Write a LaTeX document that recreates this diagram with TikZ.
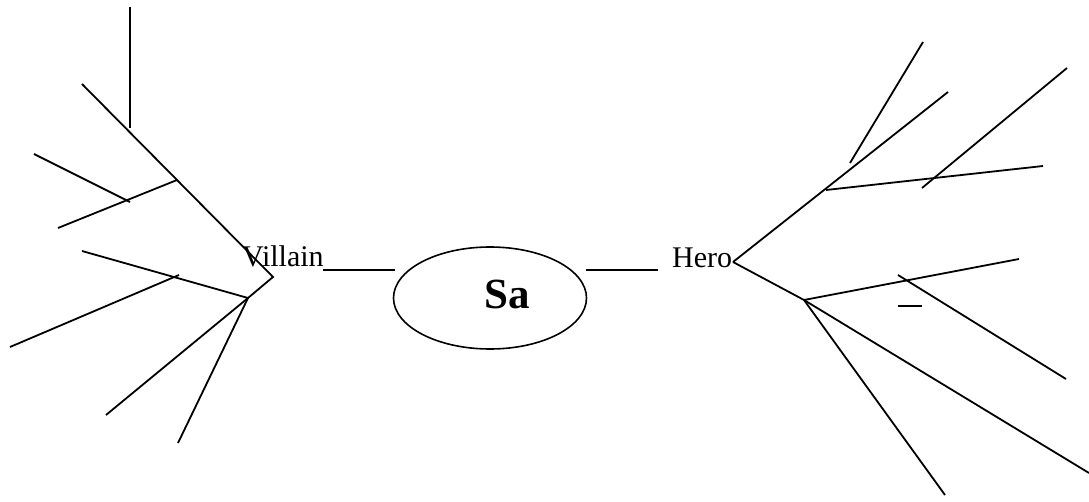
\documentclass[tikz,border=0pt]{standalone}
\usepackage{fontspec}
\setmainfont{Liberation Serif}
\usetikzlibrary{shapes.geometric}
\begin{document}
\begin{tikzpicture}[x=1pt,y=-1pt,
  branch/.style={line width=1.8pt},
  lbl/.style={inner sep=0pt,font=\fontsize{30}{30}\selectfont}]
\useasboundingbox (0,0) rectangle (1089,502);
% central ellipse
\draw[line width=1.6pt] (490,298) ellipse [x radius=96.5, y radius=51];
\node[inner sep=0pt,anchor=base,font=\fontsize{43}{43}\selectfont\bfseries] (sa) at (507,309) {Sa};
\node[lbl,anchor=base west] (villain) at (242,267) {Villain};
\node[lbl,anchor=base west] (hero) at (672,268) {Hero};
% connectors to ellipse
\coordinate (vl1) at (323,270); \coordinate (vl2) at (395,270);
\coordinate (hl1) at (586,270); \coordinate (hl2) at (658,270);
\draw[branch] (vl1) -- (vl2);
\draw[branch] (hl1) -- (hl2);
% left (Villain) tree
\coordinate (va) at (82,84);
\coordinate (vj) at (273,277);
\coordinate (vb) at (248,298);
\coordinate (vtop1) at (130,7);
\coordinate (vtop2) at (130,128);
\coordinate (vc) at (177,180);
\coordinate (vd) at (58,228);
\coordinate (ve1) at (34,154);
\coordinate (ve2) at (130,202);
\coordinate (vf) at (82,251);
\coordinate (vg1) at (10,347);
\coordinate (vg2) at (179,275);
\coordinate (vh) at (106,415);
\coordinate (vi) at (178,443);
\draw[branch] (va) -- (vj) -- (vb);
\draw[branch] (vtop1) -- (vtop2);
\draw[branch] (vc) -- (vd);
\draw[branch] (ve1) -- (ve2);
\draw[branch] (vf) -- (vb);
\draw[branch] (vg1) -- (vg2);
\draw[branch] (vb) -- (vh);
\draw[branch] (vb) -- (vi);
% right (Hero) tree
\coordinate (hj) at (733,262);
\coordinate (ha) at (948,92);
\coordinate (hb1) at (850,163); \coordinate (hb2) at (923,42);
\coordinate (hc1) at (826,190); \coordinate (hc2) at (1043,166);
\coordinate (hd1) at (922,188); \coordinate (hd2) at (1067,68);
\coordinate (hk) at (804,300);
\coordinate (he) at (1019,259);
\coordinate (hf1) at (898,275); \coordinate (hf2) at (1066,379);
\coordinate (hg1) at (898,306); \coordinate (hg2) at (922,306);
\coordinate (hh) at (945,495);
\coordinate (hi) at (1089,473);
\draw[branch] (hj) -- (ha);
\draw[branch] (hb1) -- (hb2);
\draw[branch] (hc1) -- (hc2);
\draw[branch] (hd1) -- (hd2);
\draw[branch] (hj) -- (hk) -- (he);
\draw[branch] (hf1) -- (hf2);
\draw[branch] (hg1) -- (hg2);
\draw[branch] (hk) -- (hh);
\draw[branch] (hk) -- (hi);
\end{tikzpicture}
\end{document}
